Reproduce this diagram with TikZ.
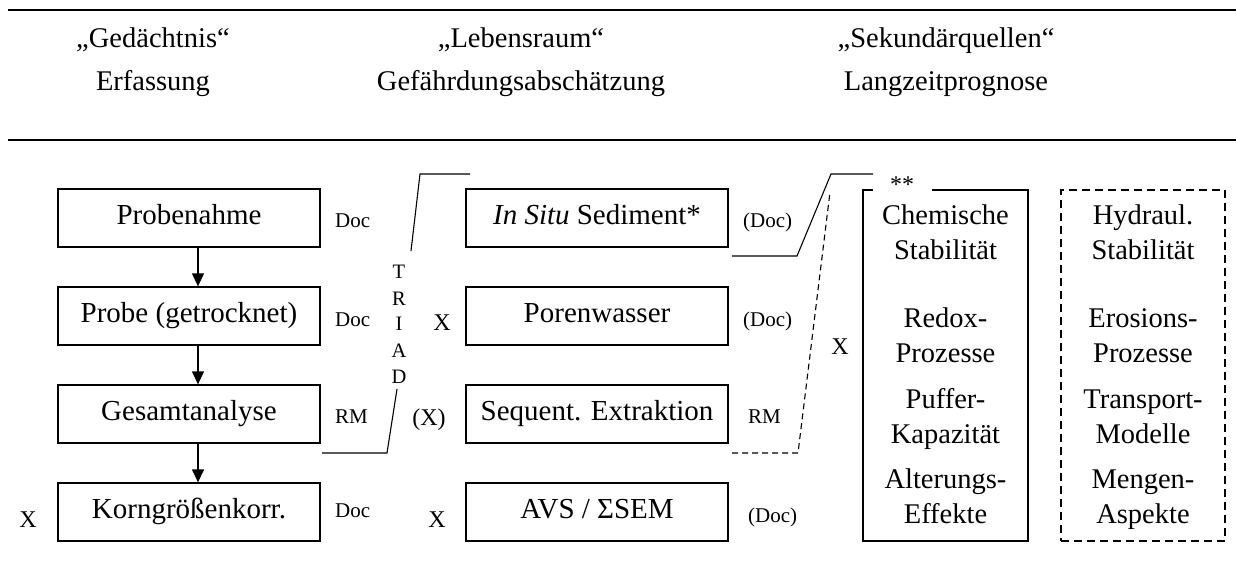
\documentclass[tikz,border=0pt]{standalone}
\usepackage{fontspec}
\setmainfont{Liberation Serif}
\usetikzlibrary{arrows.meta}
\begin{document}
\begin{tikzpicture}[x=1pt,y=-1pt,
  box/.style={draw, line width=1.3pt, minimum width=262pt, minimum height=58pt, inner sep=0pt,
    font=\fontsize{29}{34}\selectfont, text height=19pt, text depth=6pt},
  big/.style={font=\fontsize{28.5}{34}\selectfont, anchor=base, inner sep=0pt},
  tall/.style={draw, line width=1.3pt, minimum width=165pt, minimum height=351pt, inner sep=0pt},
  tallb/.style={draw, line width=1.8pt, dash pattern=on 8pt off 5pt, minimum width=164pt, minimum height=351pt, inner sep=0pt},
  small/.style={font=\fontsize{21}{24}\selectfont, anchor=base west, inner sep=0pt},
  xmark/.style={font=\fontsize{24}{28}\selectfont, anchor=base, inner sep=0pt},
  trl/.style={font=\fontsize{20.5}{24}\selectfont, anchor=base, inner sep=0pt},
  rule/.style={line width=1.8pt},
  link/.style={line width=1.1pt},
  dlink/.style={line width=1.1pt, dash pattern=on 6pt off 4pt},
  arr/.style={line width=1.3pt, -{Triangle[width=12pt,length=13pt]}},
]
\useasboundingbox (0,0) rectangle (1236,575);
% rules
\coordinate (r1a) at (8,10); \coordinate (r1b) at (1236,10);
\coordinate (r2a) at (8,140); \coordinate (r2b) at (1236,140);
\draw[rule] (r1a) -- (r1b);
\draw[rule] (r2a) -- (r2b);
% headers
\node[big] (h1a) at (153,48) {„Gedächtnis“};
\node[big] (h1b) at (153,91) {Erfassung};
\node[big] (h2a) at (521,48) {„Lebensraum“};
\node[big] (h2b) at (521,91) {Gefährdungsabschätzung};
\node[big] (h3a) at (946,48) {„Sekundärquellen“};
\node[big] (h3b) at (946,91) {Langzeitprognose};
% left column
\node[box] (b1) at (189,218) {Probenahme};
\node[box] (b2) at (189,316) {Probe (getrocknet)};
\node[box] (b3) at (189,414) {Gesamtanalyse};
\node[box] (b4) at (189,512) {Korngrößenkorr.};
\coordinate (ax) at (198,0);
\draw[arr] (b1.south -| ax) -- (b2.north -| ax);
\draw[arr] (b2.south -| ax) -- (b3.north -| ax);
\draw[arr] (b3.south -| ax) -- (b4.north -| ax);
% middle column
\node[box] (m1) at (597,218) {\textit{In Situ} Sediment*};
\node[box] (m2) at (597,316) {Porenwasser};
\node[box] (m3) at (597,414) {Sequent. Extraktion};
\node[box] (m4) at (597,512) {AVS / ΣSEM};
% labels
\node[small] (d1) at (335,227) {Doc};
\node[small] (d2) at (335,326) {Doc};
\node[small] (d3) at (335,423) {RM};
\node[small] (d4) at (335,517) {Doc};
\node[small] (e1) at (743,227) {(Doc)};
\node[small] (e2) at (743,326) {(Doc)};
\node[small] (e3) at (748,423) {RM};
\node[small] (e4) at (748,522) {(Doc)};
\node[xmark] (x1) at (28,527) {X};
\node[xmark] (x2) at (442,330) {X};
\node[xmark] (x3) at (429,425) {(X)};
\node[xmark] (x4) at (437,527) {X};
\node[xmark] (x5) at (840,354) {X};
% TRIAD
\node[trl] (t1) at (399,278) {T};
\node[trl] (t2) at (399,305) {R};
\node[trl] (t3) at (399,330) {I};
\node[trl] (t4) at (399,357) {A};
\node[trl] (t5) at (399,383) {D};
\coordinate (ta) at (470,174); \coordinate (tb) at (420,174); \coordinate (tc) at (411,251);
\coordinate (td) at (397,389); \coordinate (te) at (387,453); \coordinate (tf) at (322,453);
\draw[link] (ta) -- (tb) -- (tc);
\draw[link] (td) -- (te) -- (tf);
% right connectors
\coordinate (sa) at (732,256); \coordinate (sb) at (797,256); \coordinate (sc) at (831,174); \coordinate (sd) at (873,174);
\draw[link] (sa) -- (sb) -- (sc) -- (sd);
\coordinate (qa) at (732,453); \coordinate (qb) at (798,453); \coordinate (qc) at (830,192);
\draw[dlink] (qa) -- (qb) -- (qc);
% right boxes
\node[tall] (c1) at (945.5,365.5) {};
\node[tallb] (c2) at (1143,365.5) {};
\node[fill=white, minimum width=59pt, minimum height=8pt, inner sep=0pt] (gap) at (902.5,190) {};
\node[xmark] (st) at (902,192) {**};
\foreach \n/\y/\a/\b in {1/224/Chemische/Hydraul.,2/259/Stabilität/Stabilität,3/327/Redox-/Erosions-,4/362/Prozesse/Prozesse,5/408/Puffer-/Transport-,6/443/Kapazität/Modelle,7/488/Alterungs-/Mengen-,8/523/Effekte/Aspekte}{
  \node[big] (ca\n) at (945.5,\y) {\a};
  \node[big] (cb\n) at (1143,\y) {\b};
}
\end{tikzpicture}
\end{document}
